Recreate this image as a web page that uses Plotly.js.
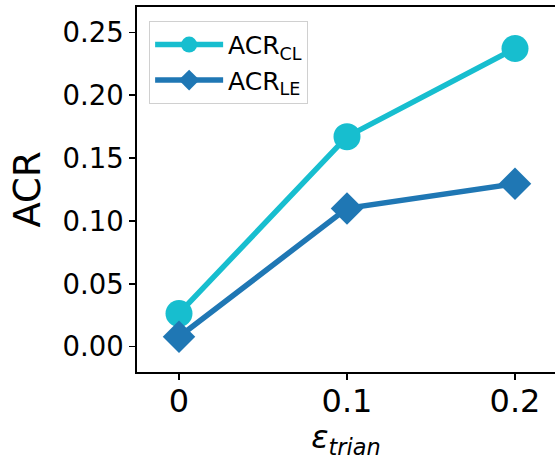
<!DOCTYPE html>
<html>
<head>
<meta charset="utf-8">
<script src="https://cdn.plot.ly/plotly-3.0.1.min.js"></script>
<style>
html,body{margin:0;padding:0;background:#fff;overflow:hidden;}
#chart{width:555px;height:460px;}
</style>
</head>
<body>
<div id="chart"></div>
<script>
// Data
var epsTrain = [0, 0.1, 0.2];
var acrCL = [0.0265, 0.167, 0.237];
var acrLE = [0.008, 0.110, 0.1295];
var seriesNames = ['ACR<sub>CL</sub>', 'ACR<sub>LE</sub>'];
var xTickVals = [0, 0.1, 0.2];
var xTickText = ['0', '0.1', '0.2'];
var yTickVals = [0, 0.05, 0.10, 0.15, 0.20, 0.25];
var yTickText = ['0.00', '0.05', '0.10', '0.15', '0.20', '0.25'];

var FONT = 'DejaVu Sans, sans-serif';

var traces = [
  {
    x: epsTrain, y: acrCL, name: seriesNames[0], type: 'scatter', mode: 'lines+markers',
    line: {color: '#17becf', width: 5.5},
    marker: {symbol: 'circle', size: 27, color: '#17becf'}
  },
  {
    x: epsTrain, y: acrLE, name: seriesNames[1], type: 'scatter', mode: 'lines+markers',
    line: {color: '#1f77b4', width: 5.5},
    marker: {symbol: 'diamond', size: 25, color: '#1f77b4'}
  }
];

var layout = {
  width: 555, height: 460,
  margin: {l: 137, r: 0, t: 7, b: 88},
  paper_bgcolor: '#fff', plot_bgcolor: '#fff',
  font: {family: FONT, color: '#000'},
  showlegend: true,
  legend: {
    x: 0.029, y: 0.962, xanchor: 'left', yanchor: 'top',
    bgcolor: 'rgba(255,255,255,0.8)', bordercolor: '#d0d0d0', borderwidth: 1,
    font: {family: FONT, size: 25, color: '#000'},
    itemwidth: 68, tracegroupgap: 0
  },
  xaxis: {
    range: [-0.025, 0.2238],
    tickmode: 'array', tickvals: xTickVals, ticktext: xTickText,
    tickfont: {family: FONT, size: 32, color: '#000'},
    ticks: 'outside', ticklen: 6, tickwidth: 1.3, tickcolor: '#000',
    ticklabelstandoff: -6,
    showline: true, linecolor: '#000', linewidth: 1.8, mirror: true,
    showgrid: false, zeroline: false,
    title: {text: '<i>ε</i><sub><i>trian</i></sub>', font: {family: FONT, size: 32, color: '#000'}, standoff: 18}
  },
  yaxis: {
    range: [-0.02, 0.27],
    tickmode: 'array', tickvals: yTickVals, ticktext: yTickText,
    tickfont: {family: FONT, size: 27.5, color: '#000'},
    ticks: 'outside', ticklen: 6, tickwidth: 1.3, tickcolor: '#000',
    showline: true, linecolor: '#000', linewidth: 1.8, mirror: false,
    showgrid: false, zeroline: false,
    title: {text: 'ACR', font: {family: FONT, size: 37, color: '#000'}, standoff: 10}
  }
};

Plotly.newPlot('chart', traces, layout, {displayModeBar: false, staticPlot: true});
</script>
</body>
</html>
